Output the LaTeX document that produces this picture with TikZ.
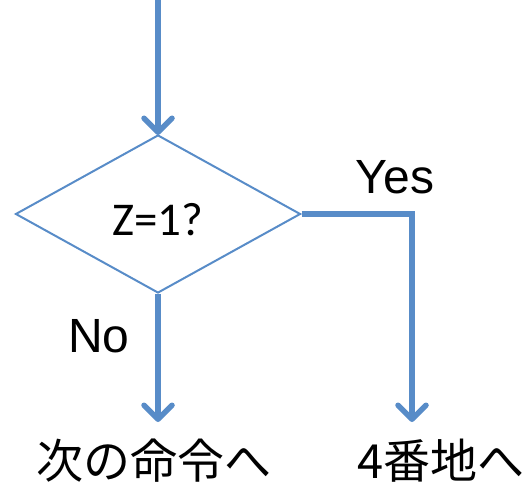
\documentclass[tikz,border=0pt]{standalone}
\usepackage{fontspec}
\setmainfont{Liberation Sans}
\newfontfamily\qfont{Carlito}
\newfontfamily\cjkfont{Noto Sans CJK JP}
\usetikzlibrary{arrows.meta,shapes.geometric}
\definecolor{flow}{RGB}{88,140,200}
\begin{document}
\begin{tikzpicture}[x=1pt,y=-1pt,
  conn/.style={draw=flow,line width=5.5pt,-{Straight Barb[length=14pt,width=28pt,line width=5.5pt,round]}},
  lbl/.style={font=\fontsize{48}{52}\selectfont,inner sep=0pt},
  jlbl/.style={font=\cjkfont\fontsize{47}{52}\selectfont,inner sep=0pt}]
\useasboundingbox (0,0) rectangle (527,484);
\node[draw=flow,line width=2pt,diamond,minimum width=285pt,minimum height=158pt,inner sep=0pt] (dec) at (158,214) {};
\node[font=\qfont\fontsize{47}{52}\selectfont,inner sep=0pt] (q) at (158,220) {Z=1?};
\coordinate (start) at (158,0);
\coordinate (corner) at (412,214);
\coordinate (noend) at (158,422);
\coordinate (yesend) at (412,422);
\draw[conn] (start) -- ([yshift=-1pt]dec.north);
\draw[conn] (dec.south) -- (noend);
\draw[conn,line join=miter] (dec.east) -- (corner) -- (yesend);
\node[lbl] (yes) at (395,177) {Yes};
\node[lbl] (no) at (99,336) {No};
\node[jlbl] (next) at (154,461) {次の命令へ};
\node[jlbl] (addr) at (441,461) {4番地へ};
\end{tikzpicture}
\end{document}
